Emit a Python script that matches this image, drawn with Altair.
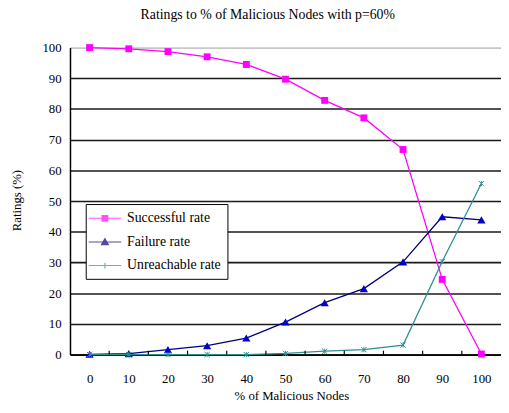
import altair as alt
import pandas as pd

# ---- data ----
x_vals = [0, 10, 20, 30, 40, 50, 60, 70, 80, 90, 100]
successful = [100, 99.6, 98.7, 97.0, 94.5, 89.7, 82.8, 77.1, 66.8, 24.5, 0.2]
failure = [0.1, 0.3, 1.6, 2.9, 5.4, 10.6, 16.9, 21.5, 30.2, 44.9, 43.9]
unreachable = [0, 0, 0, 0, 0, 0.4, 1.1, 1.6, 3.1, 30.3, 55.7]
series = ["Successful rate", "Failure rate", "Unreachable rate"]
line_colors = ["#FF00FF", "#000080", "#2F8F8F"]
marker_colors = ["#FF00FF", "#0000CC", "#2F8F8F"]
y_ticks = list(range(0, 101, 10))

rows = []
for name, vals in zip(series, [successful, failure, unreachable]):
    for xv, v in zip(x_vals, vals):
        rows.append({"x": xv, "value": v, "series": name})
df = pd.DataFrame(rows)

tick_pos = [(a + b) / 2 for a, b in zip(x_vals[:-1], x_vals[1:])]
ticks_df = pd.DataFrame({"x": tick_pos})

FONT = "Liberation Serif"
W, H = 438, 312

xscale = alt.Scale(domain=[-5, 105], nice=False, zero=False)
yscale = alt.Scale(domain=[0, 100], nice=False)

x_axis = alt.Axis(
    values=x_vals, tickCount=30, tickSize=0, labelPadding=18, grid=False,
    domainColor="black", domainWidth=1.5,
    title="% of Malicious Nodes", titleFont=FONT, titleFontSize=13,
    titleFontWeight="normal", titleColor="black",
    titleX=225, titleY=42, titleBaseline="middle",
    labelFont=FONT, labelFontSize=13, labelColor="black",
)
y_axis = alt.Axis(
    values=y_ticks, tickCount=30, tickSize=0, labelPadding=9, grid=True,
    labelOverlap=False,
    gridColor=alt.condition("datum.value == 100", alt.value("#9a9a9a"), alt.value("#1a1a1a")),
    gridWidth=alt.condition("datum.value == 100", alt.value(1), alt.value(1.6)),
    domainColor="black", domainWidth=1.5,
    title="Ratings (%)", titleFont=FONT, titleFontSize=13,
    titleFontWeight="normal", titleColor="black",
    titleX=-54, titleY=155, titleAngle=270, titleBaseline="middle", titleAlign="center",
    labelFont=FONT, labelFontSize=13, labelColor="black",
)

X = alt.X("x:Q", scale=xscale, axis=x_axis, title="% of Malicious Nodes")
Y = alt.Y("value:Q", scale=yscale, axis=y_axis, title="Ratings (%)")

base = alt.Chart(df)

layers = []
marker_shapes = [
    ("square", True, 49),
    ("triangle-up", True, 70),
    ("M-1,-1L1,1M-1,1L1,-1M0,-1L0,1", False, 28),
]
for name, lcol, mcol, (shp, filled, sz) in zip(series, line_colors, marker_colors, marker_shapes):
    sub = base.transform_filter(alt.datum.series == name)
    ln = sub.mark_line(strokeWidth=1.3, color=lcol).encode(x=X, y=Y)
    if filled:
        pt = sub.mark_point(shape=shp, filled=True, color=mcol, size=sz,
                            opacity=1, strokeWidth=0)
    else:
        pt = sub.mark_point(shape=shp, filled=False, color=mcol, size=sz,
                            opacity=1, strokeWidth=1)
    layers += [ln, pt.encode(x=X, y=Y)]

# inside tick marks between categories on the x axis
tick_rules = alt.Chart(ticks_df).mark_rule(color="black", strokeWidth=1.2).encode(
    x=X, y=alt.value(H - 4), y2=alt.value(H)
)

# legend layer: no marks drawn, legend built from the series scales
bar = "M-2,-0.06H2V0.06H-2Z"
legend_shapes = [
    bar + "M-0.42,-0.42H0.42V0.42H-0.42Z",
    bar + "M0,-0.55L0.55,0.42H-0.55Z",
    bar + "M-0.07,-0.35H0.07V0.35H-0.07Z",
]
leg = dict(
    title=None, orient="none", legendX=16, legendY=159,
    fillColor="white", strokeColor="black", padding=6,
    symbolSize=272, symbolStrokeWidth=0,
    symbolOffset=5, labelOffset=14, rowPadding=8,
    labelFont=FONT, labelFontSize=14, labelColor="black",
)
legend_layer = base.transform_filter("false").mark_point(filled=True).encode(
    x=X, y=Y,
    color=alt.Color("series:N", scale=alt.Scale(domain=series, range=line_colors),
                    legend=alt.Legend(**leg)),
    shape=alt.Shape("series:N", scale=alt.Scale(domain=series, range=legend_shapes),
                    legend=alt.Legend(**leg)),
)

chart = alt.layer(
    *layers, tick_rules, legend_layer
).properties(
    width=W, height=H,
    title=alt.TitleParams(
        "Ratings to % of Malicious Nodes with p=60%",
        font=FONT, fontSize=14, fontWeight="normal", color="black",
        anchor="middle", frame="group", offset=20, dx=-18,
    ),
    autosize=alt.AutoSizeParams(type="none"),
    padding={"left": 63, "top": 37, "right": 0, "bottom": 48},
    background="white",
).configure_view(stroke=None)

chart.save("out.html", embed_options={"renderer": "svg", "actions": False})
